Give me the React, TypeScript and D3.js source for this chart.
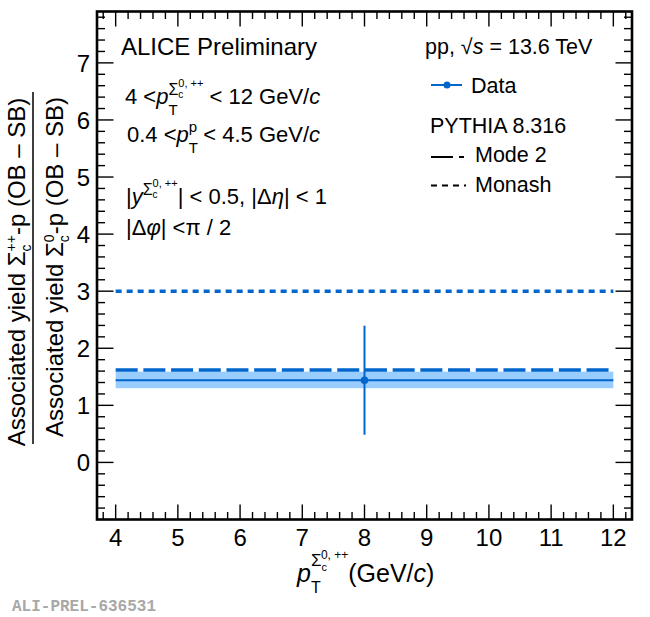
import React from 'react';
import * as d3 from 'd3';

// ---- data ----
const xMajorTicks = [4, 5, 6, 7, 8, 9, 10, 11, 12];
const yMajorTicks = [0, 1, 2, 3, 4, 5, 6, 7];
const dataX = [8];
const dataY = [1.44];
const dataErr = [0.955];
const bandXRange = [4, 12];
const bandLow = [1.3];
const bandHigh = [1.59];
const bandMid = [1.44];
const mode2Value = [1.62];
const monashValue = [3.0];

const W = 650;
const H = 617;
const FONT = '"Liberation Sans", Arial, Helvetica, sans-serif';
const BLUE = '#0066cc';
const BAND = '#99ccff';

const x = d3.scaleLinear().domain([3.7, 12.3]).range([97, 632]);
const y = d3.scaleLinear().domain([-1, 7.9]).range([519.5, 11.5]);

type Seg = { t: string; fs: number; b?: number; it?: boolean; dx?: number };

function Tex({ x0, y0, segs, anchor = 'start', fill = '#000' }: { x0: number; y0: number; segs: Seg[]; anchor?: string; fill?: string }) {
  let prev = 0;
  return (
    <text x={x0} y={y0} textAnchor={anchor} fontFamily={FONT} fill={fill} style={{ whiteSpace: 'pre' }}>
      {segs.map((s, i) => {
        const b = s.b ?? 0;
        const dy = b - prev;
        prev = b;
        return (
          <tspan key={i} dy={dy !== 0 ? dy : undefined} dx={s.dx} fontSize={s.fs} fontStyle={s.it ? 'italic' : undefined}>
            {s.t}
          </tspan>
        );
      })}
    </text>
  );
}

export default function App() {
  const [x0, x1] = x.range();
  const [y0, y1] = y.range(); // y0 bottom, y1 top
  const xMinor = d3.range(38, 123, 2).map((v) => v / 10).filter((v) => Math.abs(v - Math.round(v)) > 1e-6);
  const yMinor = d3.range(-8, 79, 2).map((v) => v / 10).filter((v) => Math.abs(v - Math.round(v)) > 1e-6);
  const xMajLen = 15, xMinLen = 7.5, yMajLen = 16.5, yMinLen = 8;

  const numSegs: Seg[] = [
    { t: 'Associated yield Σ', fs: 24 },
    { t: 'c', fs: 14, b: 6 },
    { t: '++', fs: 14, b: -9, dx: -7 },
    { t: '-p (OB – SB)', fs: 24, b: 0 },
  ];
  const denSegs: Seg[] = [
    { t: 'Associated yield Σ', fs: 24 },
    { t: 'c', fs: 14, b: 6 },
    { t: '0', fs: 14, b: -9, dx: -7 },
    { t: '-p (OB – SB)', fs: 24, b: 0 },
  ];

  return (
    <svg width={W} height={H} style={{ position: 'absolute', left: 0, top: 0, background: '#fff' }}>
      <rect x={0} y={0} width={W} height={H} fill="#fff" />

      {/* band */}
      <rect
        x={x(bandXRange[0])}
        y={y(bandHigh[0])}
        width={x(bandXRange[1]) - x(bandXRange[0])}
        height={y(bandLow[0]) - y(bandHigh[0])}
        fill={BAND}
      />
      <line x1={x(bandXRange[0])} x2={x(bandXRange[1])} y1={y(bandMid[0])} y2={y(bandMid[0])} stroke={BLUE} strokeWidth={2} />
      {/* Mode 2 */}
      <line x1={x(bandXRange[0])} x2={x(bandXRange[1])} y1={y(mode2Value[0])} y2={y(mode2Value[0])} stroke={BLUE} strokeWidth={3.5} strokeDasharray="22,5.7" />
      {/* Monash */}
      <line x1={x(bandXRange[0])} x2={x(bandXRange[1])} y1={y(monashValue[0])} y2={y(monashValue[0])} stroke={BLUE} strokeWidth={3.5} strokeDasharray="6,5" />

      {/* data */}
      {dataX.map((d, i) => (
        <g key={i}>
          <line x1={x(d)} x2={x(d)} y1={y(dataY[i] + dataErr[i])} y2={y(dataY[i] - dataErr[i])} stroke={BLUE} strokeWidth={2} />
          <circle cx={x(d)} cy={y(dataY[i])} r={3.8} fill={BLUE} />
        </g>
      ))}

      {/* ticks */}
      <g stroke="#000" strokeWidth={1.4}>
        {xMajorTicks.map((t) => (
          <g key={'xm' + t}>
            <line x1={x(t)} x2={x(t)} y1={y0} y2={y0 - xMajLen} />
            <line x1={x(t)} x2={x(t)} y1={y1} y2={y1 + xMajLen} />
          </g>
        ))}
        {xMinor.map((t) => (
          <g key={'xn' + t}>
            <line x1={x(t)} x2={x(t)} y1={y0} y2={y0 - xMinLen} />
            <line x1={x(t)} x2={x(t)} y1={y1} y2={y1 + xMinLen} />
          </g>
        ))}
        {yMajorTicks.map((t) => (
          <g key={'ym' + t}>
            <line x1={x0} x2={x0 + yMajLen} y1={y(t)} y2={y(t)} />
            <line x1={x1} x2={x1 - yMajLen} y1={y(t)} y2={y(t)} />
          </g>
        ))}
        {yMinor.map((t) => (
          <g key={'yn' + t}>
            <line x1={x0} x2={x0 + yMinLen} y1={y(t)} y2={y(t)} />
            <line x1={x1} x2={x1 - yMinLen} y1={y(t)} y2={y(t)} />
          </g>
        ))}
      </g>

      {/* frame */}
      <rect x={x0} y={y1} width={x1 - x0} height={y0 - y1} fill="none" stroke="#000" strokeWidth={2.6} />

      {/* tick labels */}
      {xMajorTicks.map((t) => (
        <text key={'xl' + t} x={x(t)} y={546} textAnchor="middle" fontFamily={FONT} fontSize={24}>
          {t}
        </text>
      ))}
      {yMajorTicks.map((t) => (
        <text key={'yl' + t} x={90} y={y(t)} dy="0.36em" textAnchor="end" fontFamily={FONT} fontSize={24}>
          {t}
        </text>
      ))}

      {/* x title */}
      <Tex
        x0={297}
        y0={582}
        segs={[
          { t: 'p', fs: 25, it: true },
          { t: 'T', fs: 16, b: 11 },
          { t: 'Σ', fs: 17, b: -16.5, dx: -9.8 },
          { t: 'c', fs: 11, b: -11.5 },
          { t: '0, ++', fs: 12, b: -23.5, dx: -6 },
          { t: '(GeV/', fs: 25, b: 0 },
          { t: 'c', fs: 25, it: true },
          { t: ')', fs: 25 },
        ]}
      />

      {/* y title */}
      <g transform="translate(25,272) rotate(-90)">
        <Tex x0={0} y0={0} anchor="middle" segs={numSegs} />
      </g>
      <line x1={33} x2={33} y1={92} y2={444} stroke="#000" strokeWidth={1.5} />
      <g transform="translate(63,267) rotate(-90)">
        <Tex x0={0} y0={0} anchor="middle" segs={denSegs} />
      </g>

      {/* left texts */}
      <text x={121} y={55} fontFamily={FONT} fontSize={24}>ALICE Preliminary</text>
      <Tex
        x0={125}
        y0={104}
        segs={[
          { t: '4 <', fs: 22 },
          { t: 'p', fs: 22, it: true },
          { t: 'T', fs: 15, b: 11 },
          { t: 'Σ', fs: 16, b: -9.5, dx: -9.2 },
          { t: 'c', fs: 10, b: -6 },
          { t: '0, ++', fs: 11, b: -17, dx: -5 },
          { t: ' < 12 GeV/', fs: 22, b: 0 },
          { t: 'c', fs: 22, it: true },
        ]}
      />
      <Tex
        x0={127}
        y0={141.5}
        segs={[
          { t: '0.4 <', fs: 22 },
          { t: 'p', fs: 22, it: true },
          { t: 'T', fs: 15, b: 11 },
          { t: 'p', fs: 15, b: -9.5, dx: -9.2 },
          { t: ' < 4.5 GeV/', fs: 22, b: 0 },
          { t: 'c', fs: 22, it: true },
        ]}
      />
      <Tex
        x0={126}
        y0={204}
        segs={[
          { t: '|', fs: 22 },
          { t: 'y', fs: 22, it: true },
          { t: 'Σ', fs: 16, b: -9.5 },
          { t: 'c', fs: 10, b: -6 },
          { t: '0, ++', fs: 11, b: -17, dx: -5 },
          { t: '| < 0.5, |Δ', fs: 22, b: 0 },
          { t: 'η', fs: 22, it: true },
          { t: '| < 1', fs: 22 },
        ]}
      />
      <Tex
        x0={126}
        y0={234.5}
        segs={[
          { t: '|Δ', fs: 22 },
          { t: 'φ', fs: 22, it: true },
          { t: '| <π / 2', fs: 22 },
        ]}
      />

      {/* right texts / legend */}
      <Tex
        x0={425}
        y0={54}
        segs={[
          { t: 'pp, √', fs: 21.5 },
          { t: 's', fs: 21.5, it: true },
          { t: ' = 13.6 TeV', fs: 21.5 },
        ]}
      />
      <line x1={431} x2={462} y1={85} y2={85} stroke={BLUE} strokeWidth={2} />
      <circle cx={447} cy={85} r={3.5} fill={BLUE} />
      <text x={471} y={92.5} fontFamily={FONT} fontSize={21.5}>Data</text>
      <text x={430} y={133} fontFamily={FONT} fontSize={21.5}>PYTHIA 8.316</text>
      <line x1={431} x2={464} y1={157} y2={157} stroke="#000" strokeWidth={2} strokeDasharray="22,6" />
      <text x={475} y={162} fontFamily={FONT} fontSize={21.5}>Mode 2</text>
      <line x1={431} x2={466} y1={185.5} y2={185.5} stroke="#000" strokeWidth={2} strokeDasharray="6,5" />
      <text x={475} y={192} fontFamily={FONT} fontSize={21.5}>Monash</text>

      {/* watermark */}
      <text x={12} y={611} fontFamily='"Liberation Mono", "DejaVu Sans Mono", monospace' fontWeight="bold" fontSize={16} fill="#a8a8a8">
        ALI-PREL-636531
      </text>
    </svg>
  );
}
